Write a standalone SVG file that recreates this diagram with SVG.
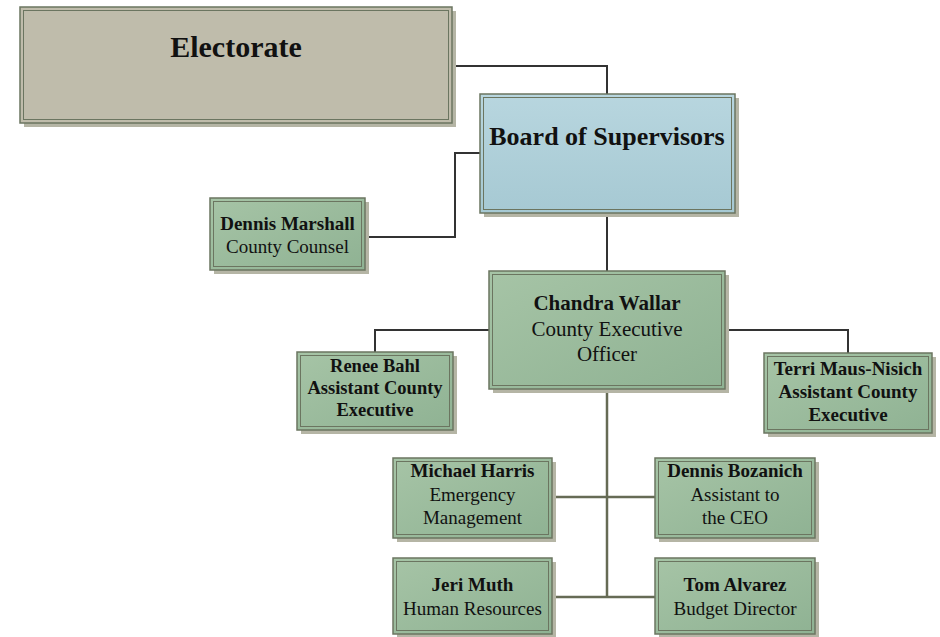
<svg xmlns="http://www.w3.org/2000/svg" width="940" height="637" viewBox="0 0 940 637">
<defs>
<linearGradient id="gGreen" x1="0" y1="0" x2="1" y2="1">
<stop offset="0" stop-color="#a6c4a6"/>
<stop offset="1" stop-color="#8fb293"/>
</linearGradient>
<linearGradient id="gBlue" x1="0" y1="0" x2="0" y2="1">
<stop offset="0" stop-color="#b8d6df"/>
<stop offset="1" stop-color="#a6c9d3"/>
</linearGradient>
<style>
.sh{fill:#b5b5a5}
.ob{stroke:#6b7560;stroke-width:1.5}
.ib{fill:none;stroke:#6b7560;stroke-width:1}
.g{fill:url(#gGreen)}
.t{font-family:"Liberation Serif","Times New Roman",serif;fill:#111;text-anchor:middle}
.b{font-weight:bold}
.c1{fill:none;stroke:#333;stroke-width:2}
.c2{fill:none;stroke:#666b55;stroke-width:2.5}
</style>
</defs>
<rect width="940" height="637" fill="#fff"/>
<g id="connectors">
<polyline class="c1" points="452,66 607,66 607,94"/>
<polyline class="c1" points="480,153 455,153 455,237 365,237"/>
<line class="c1" x1="607" y1="213" x2="607" y2="271"/>
<polyline class="c1" points="489,330 375,330 375,352"/>
<polyline class="c1" points="725,330 848,330 848,353"/>
<line class="c2" x1="607" y1="389" x2="607" y2="597"/>
<line class="c2" x1="552" y1="497" x2="655" y2="497"/>
<line class="c2" x1="552" y1="597" x2="655" y2="597"/>
</g>
<g id="electorate">
<rect class="sh" x="24" y="11" width="432" height="116"/>
<rect class="ob" x="20" y="7" width="432" height="116" fill="#bfbcab"/>
<rect class="ib" x="23.5" y="10.5" width="425" height="109"/>
<text class="t b" x="236" y="57" font-size="30">Electorate</text>
</g>
<g id="board">
<rect class="sh" x="484" y="98" width="255" height="119"/>
<rect class="ob" x="480" y="94" width="255" height="119" fill="url(#gBlue)"/>
<rect class="ib" x="483.5" y="97.5" width="248" height="112"/>
<text class="t b" x="607" y="145" font-size="26">Board of Supervisors</text>
</g>
<g id="marshall">
<rect class="sh" x="214" y="202" width="155" height="72"/>
<rect class="ob g" x="210" y="198" width="155" height="72"/>
<rect class="ib" x="213.5" y="201.5" width="148" height="65"/>
<text class="t" x="287.5" y="230" font-size="19"><tspan class="b">Dennis Marshall</tspan><tspan x="287.5" dy="23">County Counsel</tspan></text>
</g>
<g id="wallar">
<rect class="sh" x="493" y="275" width="236" height="118"/>
<rect class="ob g" x="489" y="271" width="236" height="118"/>
<rect class="ib" x="492.5" y="274.5" width="229" height="111"/>
<text class="t" x="607" y="310" font-size="21"><tspan class="b">Chandra Wallar</tspan><tspan x="607" dy="26">County Executive</tspan><tspan x="607" dy="25">Officer</tspan></text>
</g>
<g id="bahl">
<rect class="sh" x="301" y="356" width="156" height="78"/>
<rect class="ob g" x="297" y="352" width="156" height="78"/>
<rect class="ib" x="300.5" y="355.5" width="149" height="71"/>
<text class="t b" x="375" y="372" font-size="18.5"><tspan>Renee Bahl</tspan><tspan x="375" dy="22">Assistant County</tspan><tspan x="375" dy="22">Executive</tspan></text>
</g>
<g id="mausnisich">
<rect class="sh" x="768" y="357" width="168" height="80"/>
<rect class="ob g" x="764" y="353" width="168" height="80"/>
<rect class="ib" x="767.5" y="356.5" width="161" height="73"/>
<text class="t b" x="848" y="375" font-size="19"><tspan>Terri Maus-Nisich</tspan><tspan x="848" dy="23">Assistant County</tspan><tspan x="848" dy="23">Executive</tspan></text>
</g>
<g id="harris">
<rect class="sh" x="397" y="462" width="159" height="80"/>
<rect class="ob g" x="393" y="458" width="159" height="80"/>
<rect class="ib" x="396.5" y="461.5" width="152" height="73"/>
<text class="t" x="472.5" y="477" font-size="19"><tspan class="b">Michael Harris</tspan><tspan x="472.5" dy="23.5">Emergency</tspan><tspan x="472.5" dy="23.5">Management</tspan></text>
</g>
<g id="bozanich">
<rect class="sh" x="659" y="462" width="160" height="80"/>
<rect class="ob g" x="655" y="458" width="160" height="80"/>
<rect class="ib" x="658.5" y="461.5" width="153" height="73"/>
<text class="t" x="735" y="477" font-size="19"><tspan class="b">Dennis Bozanich</tspan><tspan x="735" dy="23.5">Assistant to</tspan><tspan x="735" dy="23.5">the CEO</tspan></text>
</g>
<g id="muth">
<rect class="sh" x="397" y="562" width="159" height="76"/>
<rect class="ob g" x="393" y="558" width="159" height="76"/>
<rect class="ib" x="396.5" y="561.5" width="152" height="69"/>
<text class="t" x="472.5" y="591" font-size="19"><tspan class="b">Jeri Muth</tspan><tspan x="472.5" dy="24">Human Resources</tspan></text>
</g>
<g id="alvarez">
<rect class="sh" x="659" y="562" width="160" height="76"/>
<rect class="ob g" x="655" y="558" width="160" height="76"/>
<rect class="ib" x="658.5" y="561.5" width="153" height="69"/>
<text class="t" x="735" y="591" font-size="19"><tspan class="b">Tom Alvarez</tspan><tspan x="735" dy="24">Budget Director</tspan></text>
</g>
</svg>
